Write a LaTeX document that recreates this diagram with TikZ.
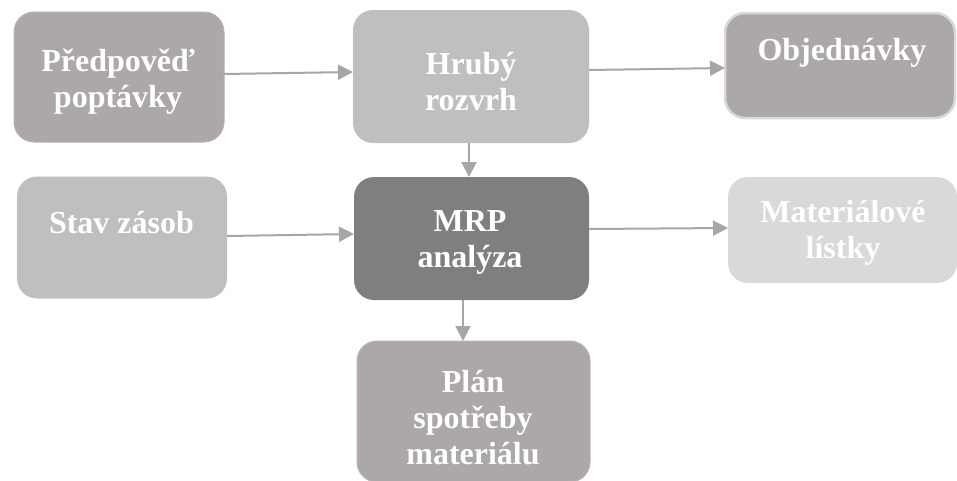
\documentclass[tikz,border=0pt]{standalone}
\usepackage{fontspec}
\setmainfont{Liberation Serif}
\usetikzlibrary{arrows.meta}

\definecolor{warmgray}{HTML}{ABA8A7}
\definecolor{warmedge}{HTML}{B6B4B3}
\definecolor{lightgray}{HTML}{BFBFBF}
\definecolor{darkgray}{HTML}{7F7F7F}
\definecolor{palegray}{HTML}{D9D9D9}
\definecolor{arrowgray}{HTML}{A6A6A6}

\tikzset{
  box/.style={rectangle, rounded corners=20pt, inner sep=0pt, outer sep=0pt},
  lbl/.style={text=white, font=\fontsize{32pt}{36pt}\selectfont\bfseries,
              align=center, inner sep=0pt},
  flow/.style={draw=arrowgray, line width=2pt,
               -{Triangle[length=15pt,width=15pt]}},
}

\begin{document}
\begin{tikzpicture}[x=1pt,y=-1pt]
  \useasboundingbox (0,0) rectangle (957,480);

  % process boxes
  \node[box, fill=warmgray, draw=warmedge, line width=1pt,
        minimum width=210pt, minimum height=130pt] (fc) at (119,77) {};
  \node[box, fill=lightgray, minimum width=236pt, minimum height=133pt]
        (rs) at (471,76.5) {};
  \node[box, fill=warmgray, draw=palegray, line width=2.5pt,
        minimum width=230pt, minimum height=105pt] (ord) at (840,65.5) {};
  \node[box, fill=lightgray, minimum width=210pt, minimum height=122pt]
        (inv) at (122,237.5) {};
  \node[box, fill=darkgray, minimum width=235pt, minimum height=123pt]
        (mrp) at (471.5,238.5) {};
  \node[box, fill=palegray, minimum width=229pt, minimum height=106pt]
        (bom) at (842.5,230) {};
  \node[box, fill=warmgray, draw=warmedge, line width=1pt,
        minimum width=233pt, minimum height=141pt] (plan) at (473.5,411.5) {};

  % box captions
  \node[lbl] (fc-t)   at (118,82)    {Předpověď\\poptávky};
  \node[lbl] (rs-t)   at (471,82)    {Hrubý\\rozvrh};
  \node[lbl] (ord-t)  at (842,52.5)  {Objednávky};
  \node[lbl] (inv-t)  at (121.5,222.5) {Stav zásob};
  \node[lbl] (mrp-t)  at (470,242.5) {MRP\\analýza};
  \node[lbl] (bom-t)  at (843,233)   {Materiálové\\lístky};
  \node[lbl] (plan-t) at (473,418)   {Plán\\spotřeby\\materiálu};

  % material flow (canvas yshift: positive is upwards)
  \draw[flow] ([yshift=3pt]fc.east)   -- ([yshift=4.5pt]rs.west);
  \draw[flow] ([yshift=6.5pt]rs.east) -- ([yshift=-2.5pt]ord.west);
  \draw[flow] ([xshift=-2pt]rs.south) -- ([xshift=-2.5pt]mrp.north);
  \draw[flow] ([yshift=1.5pt]inv.east) -- ([yshift=4.5pt]mrp.west);
  \draw[flow] ([yshift=9.5pt]mrp.east) -- ([yshift=2pt]bom.west);
  \draw[flow] ([xshift=-8.5pt]mrp.south) -- ([xshift=-10.5pt]plan.north);
\end{tikzpicture}
\end{document}
